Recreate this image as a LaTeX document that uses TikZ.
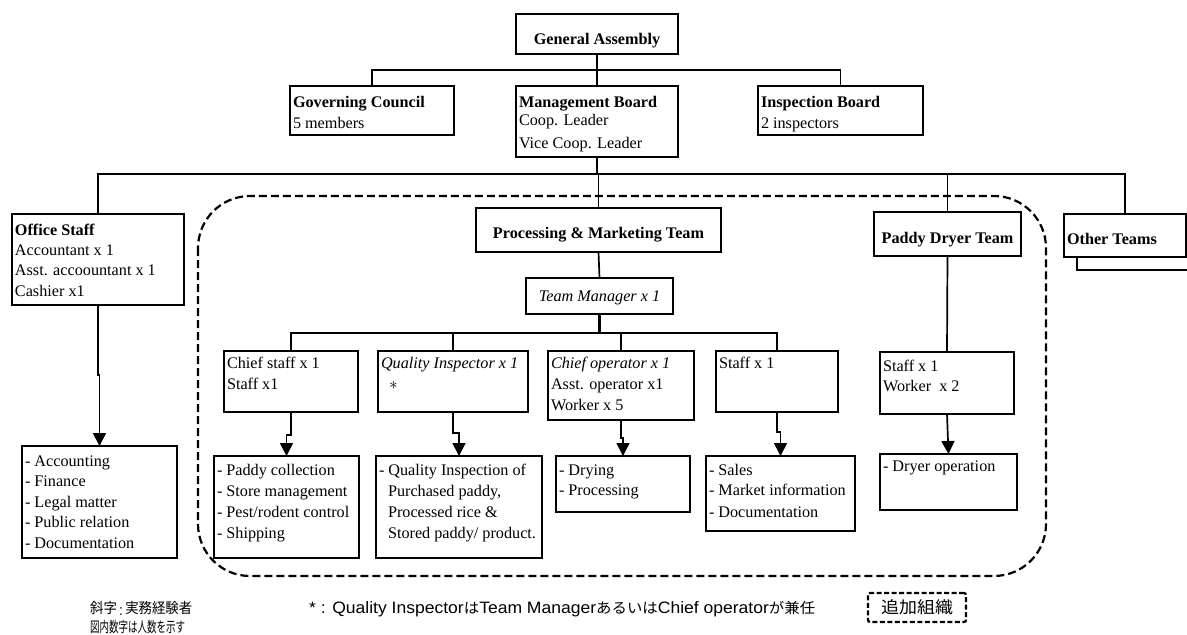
\documentclass[tikz,border=0pt]{standalone}
\usepackage{fontspec}
\setmainfont{Liberation Serif}
\newfontfamily\jpfont{Noto Sans CJK JP}
\newfontfamily\latinsans{Liberation Sans}
\usetikzlibrary{arrows.meta}

% box contents: width, height, first-baseline depth, text
\newcommand{\lefttext}[4]{\parbox[c][#2pt][t]{#1pt}{\raggedright\leftskip=3pt\relax\rule{0pt}{#3pt}#4}}
\newcommand{\midtext}[4]{\parbox[c][#2pt][t]{#1pt}{\centering\rule{0pt}{#3pt}#4}}
% Japanese run at the legend size
\newcommand{\jp}[1]{{\jpfont\fontsize{14.5}{18}\selectfont #1}}

\tikzset{
  unit/.style={draw, line width=1.9pt, inner sep=0pt, outer sep=0pt, anchor=north west, fill=white},
  link/.style={line width=1.7pt},
  arr/.style={line width=1.7pt, -{Triangle[width=13pt,length=13pt]}},
  region/.style={line width=2.2pt, dash pattern=on 8pt off 4pt, rounded corners=52pt},
}

\begin{document}
\begin{tikzpicture}[x=1pt, y=-1pt, font=\fontsize{16.2}{21}\selectfont]
\useasboundingbox (0,0) rectangle (1187,635);

% optional units enclosed by the dashed outline
\draw[region] (198,196) rectangle (1046,576);

% second sheet behind "Other Teams"
\draw[line width=1.9pt, fill=white] (1077,227) rectangle (1210,270);

% top level
\node[unit] (ga) at (516,14) {\midtext{162}{40}{30.5}{\bfseries General Assembly}};
\node[unit] (gc) at (290,86) {\lefttext{164}{49}{21.5}{\textbf{Governing Council}\\5 members}};
\node[unit] (mb) at (516,86) {\lefttext{162}{71}{21.5}{\textbf{Management Board}\\[-3pt]Coop. Leader\\[2pt]Vice Coop. Leader}};
\node[unit] (ib) at (758,86) {\lefttext{165}{49}{21.5}{\textbf{Inspection Board}\\2 inspectors}};

% second level
\node[unit] (os) at (12,214) {\lefttext{172}{91}{21.5}{\textbf{Office Staff}\\[-1pt]Accountant x 1\\[-1pt]Asst. accoountant x 1\\Cashier x1}};
\node[unit] (pmt) at (476,208) {\midtext{245}{44}{30.5}{\bfseries Processing \& Marketing Team}};
\node[unit] (pdt) at (874,212) {\midtext{147}{44}{31.5}{\bfseries Paddy Dryer Team}};
\node[unit] (ot) at (1064,214) {\lefttext{122}{43}{30.5}{\bfseries Other Teams}};

% processing & marketing team
\node[unit] (tm) at (526,278) {\midtext{147}{36}{23.5}{\itshape Team Manager x 1}};
\node[unit] (cs) at (224,351) {\lefttext{134}{61}{17.5}{Chief staff x 1\\Staff x1}};
\node[unit] (qi) at (378,351) {\lefttext{150}{61}{17.5}{\textit{Quality Inspector x 1}\\\hspace*{8pt}$\ast$}};
\node[unit] (co) at (548,351) {\lefttext{146}{69}{17.5}{\textit{Chief operator x 1}\\Asst. operator x1\\Worker x 5}};
\node[unit] (st) at (716,351) {\lefttext{122}{61}{17.5}{Staff x 1}};
\node[unit] (ps) at (880,352) {\lefttext{134}{62}{19.5}{Staff x 1\\[-1pt]Worker\ \ x 2}};

% duties
\node[unit] (acc) at (22,446) {\lefttext{155}{112}{20.5}{- Accounting\\[-1pt]- Finance\\- Legal matter\\[-1pt]- Public relation\\- Documentation}};
\node[unit] (pc) at (214,456) {\lefttext{145}{102}{19.5}{- Paddy collection\\- Store management\\- Pest/rodent control\\- Shipping}};
\node[unit] (qid) at (376,456) {\lefttext{166}{102}{19.5}{- Quality Inspection of\\\hspace*{9pt}Purchased paddy,\\\hspace*{9pt}Processed rice \&\\\hspace*{9pt}Stored paddy/ product.}};
\node[unit] (dr) at (556,456) {\lefttext{134}{56}{19.5}{- Drying\\[-1pt]- Processing}};
\node[unit] (sa) at (706,456) {\lefttext{149}{75}{19.5}{- Sales\\[-1pt]- Market information\\[1pt]- Documentation}};
\node[unit] (dop) at (880,454) {\lefttext{137}{56}{17.5}{- Dryer operation}};

% bus levels
\coordinate (busA) at (0,70);
\coordinate (busB) at (0,174);
\coordinate (busC) at (0,333);

\draw[link, line width=2.2pt] (ga.south) -- (mb.north);
\draw[link] (gc.north) -- (gc.north |- busA) -- (ib.north |- busA) -- (ib.north);
\draw[link, line width=2.2pt] (mb.south) -- (mb.south |- busB);
\draw[link] (os.north) -- (os.north |- busB) -- (ot.north |- busB) -- (ot.north);
\draw[link] (pmt.north) -- (pmt.north |- busB);
\draw[link] (pdt.north) -- (pdt.north |- busB);
\draw[link] (pmt.south) -- (tm.north);
\draw[link, line width=2.7pt] (tm.south) -- (tm.south |- busC);
\draw[link] (cs.north) -- (cs.north |- busC) -- (st.north |- busC) -- (st.north);
\draw[link] (qi.north) -- (qi.north |- busC);
\draw[link] (co.north) -- (co.north |- busC);
\draw[link] (pdt.south) -- (ps.north);

\draw[arr] (os.south) -- ++(0,70) -| (acc.north);
\draw[arr] (cs.south) -- ++(0,23) -| (pc.north);
\draw[arr] (qi.south) -- ++(0,21) -| (qid.north);
\draw[arr] (co.south) -- ++(0,18) -| (dr.north);
\draw[arr] (st.south) -- ++(0,20) -| (sa.north);
\draw[arr] (ps.south) -- (dop.north);

% legend
\node[anchor=base west, inner sep=0pt, font=\fontsize{15}{18}\selectfont\latinsans] (legA) at (90,613)
  {\resizebox{102pt}{\height}{\jp{斜字}\,\raisebox{-2pt}{:}\,\jp{実務経験者}}};
\node[anchor=base west, inner sep=0pt] (legB) at (90,632)
  {\resizebox{95pt}{\height}{\jp{図内数字は人数を示す}}};
\node[anchor=base west, inner sep=0pt, font=\fontsize{16.5}{18}\selectfont\latinsans] (legC) at (309,613)
  {\resizebox{506pt}{\height}{* : Quality Inspector\jp{は}Team Manager\jp{あるいは}Chief operator\jp{が兼任}}};
\node[draw, line width=2.2pt, dash pattern=on 5pt off 2.5pt, rounded corners=2pt, minimum width=98pt, minimum height=29pt, inner sep=0pt] (legD) at (917,607.5)
  {\resizebox{72pt}{\height}{\jpfont\fontsize{16.5}{18}\selectfont 追加組織}};
\end{tikzpicture}
\end{document}
